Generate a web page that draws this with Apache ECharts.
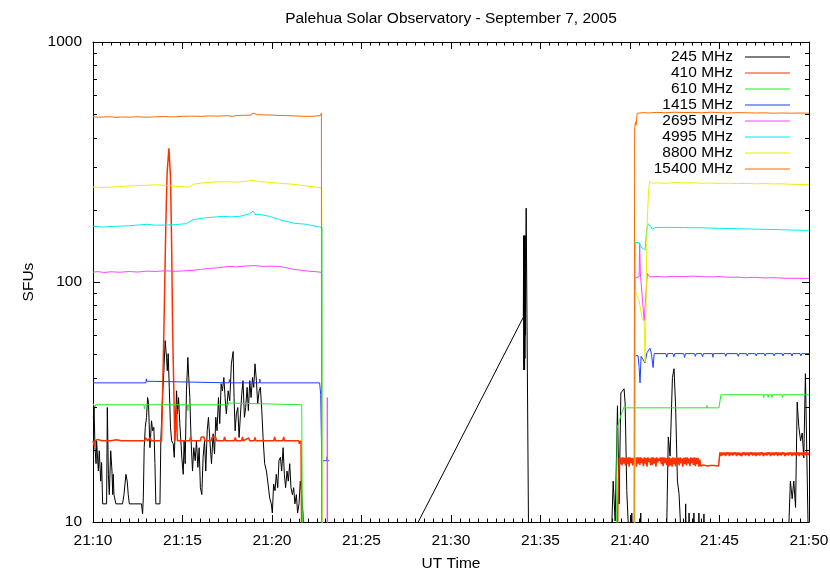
<!DOCTYPE html>
<html><head><meta charset="utf-8">
<script src="https://cdn.jsdelivr.net/npm/echarts@6/dist/echarts.min.js"></script>
<style>html,body{margin:0;padding:0;background:#fff}#c{width:830px;height:571px}</style>
</head><body><div id="c"></div>
<script>
const titleText = 'Palehua Solar Observatory - September 7, 2005';
const xName = 'UT Time';
const yName = 'SFUs';
const hourLabel = '21';
const seriesNames = ['245 MHz','410 MHz','610 MHz','1415 MHz','2695 MHz','4995 MHz','8800 MHz','15400 MHz'];
const seriesColors = ['#000000','#ff3000','#22ee22','#1f3fff','#ff44ff','#00eeee','#eeee00','#ff6a00'];
const seriesWidths = [1, 1.5, 1, 1, 1, 1, 1, 1];
const yMinorTicks = [20,30,40,50,60,70,80,90,200,300,400,500,600,700,800,900];

// [minutes after 21:00, SFU]
const s245 = [[10.02,27.3],[10.06,30.0],[10.11,20.4],[10.17,17.5],[10.20,21.8],[10.30,16.3],[10.35,19.8],[10.43,14.8],[10.48,17.7],[10.54,11.9],[10.76,11.9],[10.80,30.0],[10.86,15.8],[10.91,13.0],[10.99,19.8],[11.06,16.3],[11.10,13.0],[11.13,15.8],[11.17,13.0],[11.28,11.9],[11.65,11.9],[11.73,13.0],[11.84,15.8],[11.91,14.8],[11.97,13.0],[12.03,11.9],[12.71,11.9],[12.77,10.8],[12.81,12.6],[12.86,20.4],[12.92,24.8],[12.99,27.3],[13.05,33.0],[13.10,31.5],[13.18,20.4],[13.27,26.4],[13.33,24.0],[13.40,24.8],[13.46,17.5],[13.51,11.9],[13.74,11.9],[13.79,21.8],[13.89,34.1],[13.96,42.7],[14.03,57.0],[14.11,48.5],[14.15,42.7],[14.20,50.3],[14.26,36.4],[14.33,24.8],[14.39,21.8],[14.48,21.2],[14.54,18.6],[14.59,24.0],[14.67,35.2],[14.72,28.2],[14.78,33.0],[14.85,25.7],[14.91,21.8],[14.96,18.6],[15.04,15.8],[15.09,21.8],[15.15,17.5],[15.22,35.2],[15.30,48.5],[15.35,40.0],[15.41,33.0],[15.48,21.8],[15.56,16.3],[15.63,20.4],[15.71,18.0],[15.78,21.8],[15.86,16.9],[15.93,20.4],[16.00,13.9],[16.08,13.0],[16.15,18.6],[16.23,21.8],[16.30,16.3],[16.38,24.0],[16.45,27.3],[16.53,21.8],[16.62,17.5],[16.71,23.3],[16.79,19.2],[16.86,27.3],[16.93,24.0],[17.01,33.0],[17.08,25.7],[17.16,37.7],[17.23,35.2],[17.31,40.0],[17.38,33.0],[17.45,28.2],[17.55,35.2],[17.64,32.0],[17.73,45.6],[17.83,51.3],[17.88,33.0],[17.94,24.0],[18.01,28.2],[18.09,30.0],[18.16,22.5],[18.24,28.2],[18.31,34.1],[18.38,38.8],[18.46,27.3],[18.53,30.0],[18.61,36.4],[18.68,29.1],[18.76,38.8],[18.83,33.0],[18.91,40.0],[18.98,36.4],[19.05,45.6],[19.13,38.8],[19.20,31.0],[19.28,35.2],[19.35,36.4],[19.43,29.1],[19.50,22.5],[19.59,17.5],[19.69,16.3],[19.78,14.4],[19.87,12.6],[19.96,11.9],[20.02,10.9],[20.09,14.4],[20.17,13.5],[20.24,15.8],[20.32,13.9],[20.39,18.0],[20.47,18.6],[20.54,16.3],[20.62,20.4],[20.69,15.8],[20.76,13.9],[20.84,16.3],[20.91,14.8],[20.99,17.5],[21.06,13.9],[21.14,13.0],[21.21,13.9],[21.28,11.9],[21.36,13.0],[21.43,10.9],[21.51,11.9],[21.58,14.8],[21.66,13.0],[21.73,10.9],[21.77,8],[21.8,null],
  [28.14,9.9],[34.04,71.3],[34.06,156],[34.07,43],[34.08,150],[34.09,45],[34.10,156],[34.11,43],[34.12,152],[34.13,48],[34.14,156],[34.15,60],[34.20,203],[34.33,9.5],[34.4,null],
  [38.98,9.5],[39.06,14.8],[39.17,10.1],[39.30,30.5],[39.39,11.9],[39.49,34.5],[39.58,35.2],[39.67,35.9],[39.73,31.0],[39.82,13.5],[39.91,9.5],[40.08,9.5],[40.10,10.9],[40.12,9.5],[40.58,9.5],[40.60,10.9],[40.62,9.5],[42.05,9.5],[42.14,22.6],[42.24,18.8],[42.37,40.0],[42.46,43.5],[42.55,29.9],[42.65,14.8],[42.74,13.1],[42.83,9.5],[43.09,9.5],[43.11,11.9],[43.13,9.5],[43.28,9.5],[43.30,10.9],[43.32,9.5],[43.55,9.5],[43.57,10.9],[43.59,9.5],[43.83,9.5],[43.85,10.9],[43.87,9.5],[44.11,9.5],[44.13,10.8],[44.15,9.5],[48.87,9.5],[48.96,14.8],[49.06,12.5],[49.15,14.8],[49.25,11.5],[49.34,31.6],[49.43,25.0],[49.53,21.8],[49.62,23.5],[49.71,18.5],[49.80,41.5],[49.89,41.0],[49.95,9.5]];

const s410 = [[10.00,21.8],[10.08,21.8],[10.10,20.6],[10.13,21.8],[10.25,22.1],[10.5,21.8],[11.0,21.8],[11.3,22.0],[11.6,21.8],[12.9,21.8],[12.92,22.5],[13.0,22.4],[13.05,21.8],[13.2,22.5],[13.25,21.8],[13.83,21.8],[13.96,62.7],[14.07,176],[14.14,284],[14.24,361],[14.33,274],[14.39,149],[14.45,62.7],[14.57,21.8],[14.66,21.8],[14.68,29.6],[14.70,23.3],[14.72,21.8],[15.4,21.8],[15.45,22.5],[15.5,21.8],[16.0,21.8],[16.05,22.6],[16.2,22.6],[16.25,21.8],[16.6,21.8],[16.65,22.5],[16.75,22.3],[16.85,22.6],[16.9,21.8],[17.3,21.8],[17.35,22.6],[17.4,21.8],[17.9,21.8],[17.95,22.5],[18.0,21.8],[18.3,21.8],[18.35,22.6],[18.4,21.8],[18.7,22.4],[18.75,21.8],[19.0,21.8],[19.05,22.5],[19.1,21.8],[20.1,21.8],[20.15,22.6],[20.2,21.8],[20.6,21.8],[20.65,22.6],[20.7,21.8],[21.5,21.8],[21.52,21.2],[21.6,21.2],[21.62,21.8],[21.66,21.8],[21.68,5],[21.7,null],
  [39.27,5],[39.32,11.5],[39.40,18.5],[39.45,17.4],[39.5,18.6],[39.55,17.2],[39.6,18.6],[39.65,17.5],[39.7,18.5],[39.75,17.2],[39.8,18.6],[39.85,17.4],[39.9,18.6],[39.95,17.0],[40.0,18.6],[40.05,17.6],[40.1,18.5],[40.15,17.2],[40.2,18.5],[40.25,17.4],[40.3,18.6],[40.35,17.0],[40.4,18.6],[40.45,17.5],[40.5,18.6],[40.55,17.3],[40.6,18.6],[40.65,17.6],[40.7,18.4],[40.75,17.1],[40.8,18.6],[40.85,17.5],[40.9,18.5],[40.95,17.0],[41.0,18.6],[41.05,17.8],[41.1,18.4],[41.15,17.2],[41.2,18.6],[41.25,17.3],[41.3,18.6],[41.35,17.5],[41.4,18.5],[41.45,17.0],[41.5,18.6],[41.55,17.7],[41.6,18.4],[41.65,18.0],[41.7,18.6],[41.75,17.4],[41.8,18.6],[41.85,17.1],[41.9,18.6],[41.95,17.6],[42.0,18.5],[42.05,17.3],[42.1,18.5],[42.15,17.0],[42.2,18.6],[42.25,17.2],[42.3,18.4],[42.35,17.0],[42.4,18.6],[42.45,17.4],[42.5,18.5],[42.55,17.1],[42.6,18.6],[42.65,17.5],[42.7,18.5],[42.75,17.2],[42.8,18.6],[42.85,17.6],[42.9,18.4],[42.95,17.0],[43.0,18.5],[43.05,17.4],[43.1,18.6],[43.15,17.2],[43.2,18.6],[43.25,17.5],[43.3,18.4],[43.35,17.1],[43.4,18.6],[43.45,17.6],[43.5,18.5],[43.55,17.3],[43.6,18.6],[43.65,17.1],[43.7,18.5],[43.75,17.4],[43.8,18.5],[43.85,17.0],[43.9,18.2],[43.95,17.1],[44.0,17.4],[44.05,17.0],[44.1,17.3],[44.15,17.0],[44.2,17.4],[44.3,17.1],[44.4,17.0],[44.5,17.2],[44.6,17.0],[44.7,17.2],[44.8,17.1],[44.95,17.1],[45.02,19.5],[45.06,18.8],[45.1,19.5],[45.15,18.9],[45.2,19.5],[45.25,19.0],[45.3,19.5],[45.35,18.8],[45.4,19.5],[45.45,19.1],[45.5,19.5],[45.55,18.8],[45.6,19.5],[45.65,19.0],[45.7,19.5],[45.75,18.9],[45.8,19.5],[45.85,19.1],[45.9,19.5],[45.95,18.8],[46.0,19.5],[46.05,19.0],[46.1,19.5],[46.15,18.9],[46.2,19.4],[46.25,18.8],[46.3,19.5],[46.35,19.1],[46.4,19.5],[46.45,18.9],[46.5,19.5],[46.55,19.0],[46.6,19.5],[46.65,18.8],[46.7,19.5],[46.75,19.1],[46.8,19.5],[46.85,18.9],[46.9,19.5],[46.95,19.0],[47.0,19.5],[47.05,18.8],[47.1,19.5],[47.15,19.0],[47.2,19.5],[47.25,18.9],[47.3,19.5],[47.35,19.1],[47.4,19.5],[47.45,18.8],[47.5,19.4],[47.55,19.0],[47.6,19.5],[47.65,18.9],[47.7,19.5],[47.75,19.1],[47.8,19.5],[47.85,18.8],[47.9,19.5],[47.95,19.0],[48.0,19.5],[48.05,18.9],[48.1,19.5],[48.15,19.1],[48.2,19.5],[48.25,18.8],[48.3,19.5],[48.35,19.0],[48.4,19.5],[48.45,18.9],[48.5,19.5],[48.55,19.1],[48.6,19.5],[48.65,18.8],[48.7,19.4],[48.75,19.0],[48.8,19.5],[48.85,18.9],[48.9,19.5],[48.95,19.1],[49.0,19.5],[49.05,18.8],[49.1,19.5],[49.15,19.0],[49.2,19.5],[49.25,18.9],[49.3,19.5],[49.35,19.1],[49.4,19.5],[49.45,18.8],[49.5,19.5],[49.55,19.0],[49.6,19.5],[49.65,18.9],[49.7,19.5],[49.75,19.1],[49.8,19.5],[49.85,18.9],[49.9,19.5],[49.95,19.0],[50.0,19.5]];

const s610 = [[10.00,31.2],[10.10,31.2],[10.12,30.0],[10.15,30.8],[12.85,30.8],[12.87,29.6],[12.92,30.8],[15.28,30.8],[15.30,29.1],[15.33,30.8],[17.55,30.8],[17.58,31.4],[17.7,31.3],[17.72,30.8],[21.66,30.8],[21.72,5],[21.75,null],
  [39.23,5],[39.28,24.6],[39.57,29.0],[39.70,30.5],[39.75,29.9],[44.28,29.9],[44.30,30.6],[44.32,29.9],[44.97,29.9],[45.08,33.9],[47.45,33.9],[47.47,33.0],[47.5,33.9],[47.7,33.9],[47.72,33.1],[47.75,33.9],[47.9,33.9],[47.93,33.0],[47.96,33.9],[48.5,33.9],[48.52,33.1],[48.55,33.9],[50.0,33.9]];

const s1415 = [[10.00,38.0],[12.96,38.0],[12.98,39.5],[13.0,38.6],[13.02,38.0],[17.6,38.0],[17.62,39.2],[17.65,38.0],[19.3,38.0],[19.32,39.4],[19.35,38.0],[22.66,38.0],[22.72,34.0],[22.78,18.0],[22.90,18.0],[23.05,18.0],[23.08,18.7],[23.10,18.0],[23.2,18.0],[23.22,null],
  [40.24,5],[40.26,49.3],[40.45,49.3],[40.51,44.0],[40.56,38.0],[40.62,49.0],[40.70,49.5],[40.84,46.0],[40.95,50.8],[41.12,53.0],[41.2,50.0],[41.29,44.0],[41.35,50.3],[42.0,50.3],[42.05,48.6],[42.1,50.3],[42.4,50.3],[42.45,48.8],[42.5,50.3],[43.0,50.3],[43.05,48.5],[43.1,50.3],[43.6,50.3],[43.65,49.0],[43.7,50.3],[44.0,50.3],[44.05,48.8],[44.1,50.3],[44.6,50.3],[44.63,48.6],[44.66,50.3],[45.3,50.3],[45.35,49.0],[45.4,50.3],[46.0,50.3],[46.05,49.0],[46.1,50.3],[46.5,50.3],[46.55,49.2],[46.6,50.3],[47.0,50.3],[47.05,49.2],[47.1,50.3],[47.5,50.3],[47.55,49.2],[47.6,50.3],[48.0,50.3],[48.05,49.2],[48.1,50.3],[48.5,50.3],[48.55,49.2],[48.6,50.3],[49.0,50.3],[49.05,49.2],[49.1,50.3],[49.5,50.3],[49.55,49.2],[49.6,50.3],[50.0,50.3]];

const s2695 = [[10.00,109.9],[10.3,110.5],[10.6,109.5],[11.0,110.3],[11.5,109.8],[12.0,110.6],[12.5,110.0],[13.0,111.0],[13.5,110.6],[14.0,111.4],[14.5,110.8],[15.0,111.2],[15.5,111.7],[16.0,112.8],[16.5,113.9],[17.0,114.8],[17.6,116.1],[18.0,115.6],[18.5,116.5],[19.0,117.0],[19.5,116.2],[20.0,116.4],[20.4,116.1],[20.8,114.6],[21.2,113.0],[21.6,112.0],[22.0,111.0],[22.4,110.5],[22.66,109.9],[22.78,109.5],[22.82,5],[23.07,5],[23.09,33.0],[23.11,5],[23.13,null],
  [40.25,5],[40.26,103.4],[40.51,105.4],[40.54,145],[40.58,108],[40.79,69.1],[40.97,108.5],[41.1,105.0],[41.2,106.0],[41.5,105.4],[42.0,105.0],[42.5,105.6],[43.0,105.2],[43.5,105.8],[44.0,105.3],[44.5,105.0],[45.0,105.4],[45.5,104.6],[46.0,104.8],[46.5,104.2],[47.0,104.6],[47.5,104.0],[48.0,104.2],[48.5,103.8],[49.0,103.6],[49.5,103.6],[50.0,103.4]];

const s4995 = [[10.02,170.5],[10.5,169.5],[11.13,170.5],[12.0,171.5],[13.00,173.9],[13.5,172.5],[14.11,172.7],[14.6,173.5],[15.23,175.0],[15.59,181.9],[16.34,185.4],[16.8,186.5],[17.27,187.7],[17.7,186.8],[18.20,187.7],[18.76,192.6],[18.94,197.5],[19.04,191.3],[19.31,191.3],[19.87,187.7],[20.43,181.9],[21.17,176.0],[21.92,173.9],[22.66,169.4],[22.80,169.0],[22.83,5],[22.85,null],
  [40.26,5],[40.29,146],[40.51,146],[40.60,140],[40.84,136],[40.93,164],[41.02,175],[41.16,170],[41.24,166],[41.4,168.5],[42.0,169.0],[43.0,168.5],[44.0,168.3],[45.0,167.3],[46.0,166.8],[47.0,166.0],[48.0,165.5],[49.0,164.6],[50.0,164.1]];

const s8800 = [[10.00,248.8],[10.5,247.5],[11.13,248.8],[11.7,250.5],[12.3,251.8],[12.98,252.9],[13.5,254.0],[14.11,252.5],[14.6,250.5],[15.23,248.8],[15.3,245],[15.4,249],[15.59,255.3],[16.1,258.5],[16.7,261.0],[17.4,261.5],[18.2,261.0],[18.94,265.3],[19.3,262],[19.7,260.5],[20.4,258.0],[21.2,255.3],[22.0,251.0],[22.66,247.4],[22.78,246],[22.81,5],[22.83,null],
  [40.26,5],[40.29,92.1],[40.51,83.7],[40.67,71.1],[40.79,68.6],[40.84,46.3],[40.90,84],[40.95,169],[41.04,241],[41.1,262],[41.18,266],[41.25,258],[41.5,258.8],[42.0,257.8],[42.5,259.5],[43.0,258.6],[43.5,259.2],[44.0,258.0],[44.5,258.5],[45.0,257.5],[45.5,258.0],[46.0,257.0],[46.5,257.5],[47.0,256.5],[47.5,257.0],[48.0,256.2],[48.5,256.5],[49.0,255.5],[49.5,255.0],[50.0,255.3]];

const s15400 = [[10.00,488],[10.3,486],[10.6,487],[11.0,488],[11.3,485],[11.6,487],[12.0,486],[12.5,488],[13.0,486],[13.5,488],[14.0,489],[14.5,487],[15.0,490],[15.5,491],[16.0,490],[16.5,492],[17.0,491],[17.5,493],[17.8,490],[18.0,494],[18.5,495],[18.85,496],[18.92,506],[19.0,500],[19.2,498],[19.5,497],[20.0,496],[20.5,494],[21.0,493],[21.5,491],[22.0,490],[22.4,491],[22.7,494],[22.76,505],[22.77,5],[22.8,null],
  [40.22,5],[40.26,440],[40.31,465],[40.34,450],[40.40,505],[40.5,503],[40.8,508],[41.0,506],[41.5,509],[42.0,507],[42.5,510],[43.0,508],[43.5,509],[44.0,507],[44.5,510],[45.0,508],[45.5,506],[46.0,508],[46.5,507],[47.0,506],[47.5,507],[48.0,505],[48.5,506],[49.0,505],[49.5,506],[50.0,505]];

const seriesData = [s245, s410, s610, s1415, s2695, s4995, s8800, s15400];

const FONT = 'Liberation Sans, Arial, Helvetica, sans-serif';
const FS = 15.5;
const chart = echarts.init(document.getElementById('c'), null, {renderer: 'canvas'});

const axisLine = {show: true, lineStyle: {color: '#000', width: 1}};
const majorTick = {show: true, inside: true, length: 7, lineStyle: {color: '#000', width: 1}};
const minorTick = {show: true, splitNumber: 10, length: 3.5, lineStyle: {color: '#000', width: 1}};
const fmtTime = v => hourLabel + ':' + String(v).padStart(2, '0');

chart.setOption({
  animation: false,
  backgroundColor: '#fff',
  title: {
    text: titleText, left: 451, top: 11, textAlign: 'center', padding: 0,
    textStyle: {fontFamily: FONT, fontSize: FS, fontWeight: 'normal', color: '#000'}
  },
  grid: {left: 93, right: 21, top: 42, bottom: 49, containLabel: false, outerBoundsMode: 'none'},
  legend: {
    orient: 'vertical', align: 'right', right: 40, top: 49, padding: 0,
    icon: 'rect', itemWidth: 45, itemHeight: 1, itemGap: 0, selectedMode: false,
    textStyle: {fontFamily: FONT, fontSize: FS, color: '#000', lineHeight: 16, padding: [0, 7, 0, 0]},
    data: seriesNames
  },
  xAxis: [{
    type: 'value', min: 10, max: 50, interval: 5, position: 'bottom',
    name: xName, nameLocation: 'middle', nameGap: 34,
    nameTextStyle: {fontFamily: FONT, fontSize: FS, color: '#000'},
    axisLine, axisTick: majorTick, minorTick, splitLine: {show: false},
    axisLabel: {fontFamily: FONT, fontSize: FS, color: '#000', margin: 11, formatter: fmtTime}
  }, {
    type: 'value', min: 10, max: 50, interval: 5, position: 'top',
    axisLine, axisTick: majorTick, minorTick, splitLine: {show: false},
    axisLabel: {show: false}
  }],
  yAxis: [{
    type: 'log', logBase: 10, min: 10, max: 1000, position: 'left',
    name: yName, nameLocation: 'middle', nameGap: 50, nameRotate: 90,
    nameTextStyle: {fontFamily: FONT, fontSize: FS, color: '#000'},
    axisLine, axisTick: majorTick, splitLine: {show: false},
    axisLabel: {fontFamily: FONT, fontSize: FS, color: '#000', margin: 11, formatter: v => String(v)}
  }, {
    type: 'log', logBase: 10, min: 10, max: 1000, position: 'right',
    axisLine, axisTick: majorTick, splitLine: {show: false},
    axisLabel: {show: false}
  }],
  series: seriesNames.map((n, i) => ({
    name: n, type: 'line', data: seriesData[i], xAxisIndex: 0, yAxisIndex: 0,
    symbol: 'none', showSymbol: false, connectNulls: false, clip: true,
    lineStyle: {color: seriesColors[i], width: seriesWidths[i]}, itemStyle: {color: seriesColors[i]},
    emphasis: {disabled: true}, z: 2 + i
  }))
});

// log-axis minor ticks (2..9 per decade), placed through the y axis scale
const xl = chart.convertToPixel({xAxisIndex: 0}, 10);
const xr = chart.convertToPixel({xAxisIndex: 0}, 50);
const g = [];
yMinorTicks.forEach(v => {
  const y = Math.round(chart.convertToPixel({yAxisIndex: 0}, v)) + 0.5;
  g.push({type: 'line', silent: true, z: 50, shape: {x1: Math.round(xl), y1: y, x2: Math.round(xl) + 4, y2: y}, style: {stroke: '#000', lineWidth: 1}});
  g.push({type: 'line', silent: true, z: 50, shape: {x1: Math.round(xr) - 4, y1: y, x2: Math.round(xr), y2: y}, style: {stroke: '#000', lineWidth: 1}});
});
chart.setOption({graphic: g});
</script>
</body></html>
